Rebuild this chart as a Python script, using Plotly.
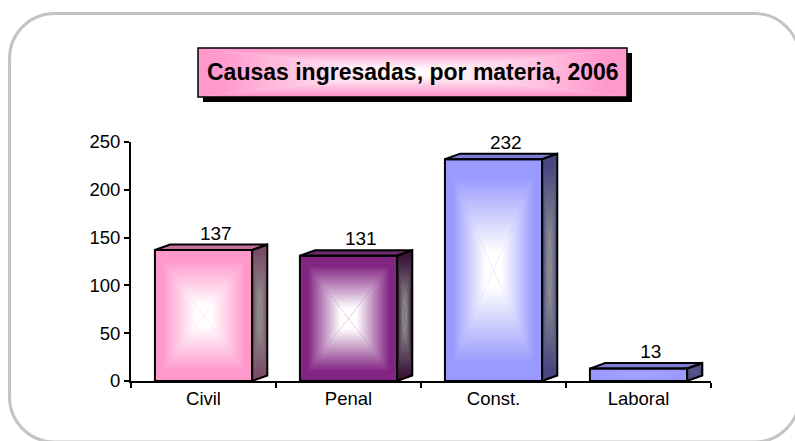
import plotly.graph_objects as go

# ---------------- data ----------------
categories = ["Civil", "Penal", "Const.", "Laboral"]
values = [137, 131, 232, 13]
y_ticks = [0, 50, 100, 150, 200, 250]
title_text = "Causas ingresadas, por materia, 2006"

# ---------------- styles ----------------
front_edge = ["#ff99cc", "#822482", "#9999ff", "#9999ff"]
front_center = ["#ffffff", "#ffffff", "#ffffff", "#a4a4ff"]
side_edge = ["#7a4d66", "#3a183a", "#48487f", "#48487f"]
side_center = ["#8e8e8e", "#8a8a8a", "#8e8e8e", "#58588f"]
top_color = ["#c4729c", "#6a2a66", "#7c7cd4", "#7c7cd4"]

FONT = "Arial, Liberation Sans, sans-serif"
W, H = 795, 441
PX_L, PX_R, PX_T, PX_B = 131, 711, 142, 381
BAR_W = 0.67
DX = 0.105   # 3-D depth along x (category units)
DY = 5.8     # 3-D depth along y (value units)

fig = go.Figure()


def cs(e, c, inner=0.08, plateau=0.42):
    return [[0, e], [inner, e], [plateau, c], [1 - plateau, c], [1 - inner, e], [1, e]]


def box_gradient(bl, tl, tr, br, center, xr, yr, e, c, xa="x", ya="y", inner=0.08, plateau=0.42):
    tris = [
        ([bl, tl, center], "horizontal", xr),
        ([tr, br, center], "horizontal", xr),
        ([tl, tr, center], "vertical", yr),
        ([br, bl, center], "vertical", yr),
    ]
    for pts, typ, (s0, s1) in tris:
        xs = [p[0] for p in pts] + [pts[0][0]]
        ys = [p[1] for p in pts] + [pts[0][1]]
        fig.add_trace(go.Scatter(
            x=xs, y=ys, mode="lines", line=dict(width=0), fill="toself",
            fillgradient=dict(type=typ, colorscale=cs(e, c, inner, plateau), start=s0, stop=s1),
            hoverinfo="skip", showlegend=False, xaxis=xa, yaxis=ya))


# base bars (front faces)
xpos = list(range(len(categories)))
fig.add_trace(go.Bar(
    x=xpos, y=values, width=BAR_W,
    marker=dict(color=front_edge, line=dict(width=0)),
    hoverinfo="skip", showlegend=False))

outline_x, outline_y = [], []
for i, v in enumerate(values):
    x0, x1 = i - BAR_W / 2, i + BAR_W / 2
    # front face gradient
    box_gradient((x0, 0), (x0, v), (x1, v), (x1, 0), ((x0 + x1) / 2, v / 2),
                 (x0, x1), (0, v), front_edge[i], front_center[i])
    # side face: base fill then gradient
    sx = [x1, x1, x1 + DX, x1 + DX, x1]
    sy = [0, v, v + DY, DY, 0]
    fig.add_trace(go.Scatter(x=sx, y=sy, mode="lines", line=dict(width=0), fill="toself",
                             fillcolor=side_edge[i], hoverinfo="skip", showlegend=False))
    box_gradient((x1, 0), (x1, v), (x1 + DX, v + DY), (x1 + DX, DY),
                 (x1 + DX / 2, (v + DY) / 2), (x1, x1 + DX), (DY / 2, v + DY / 2),
                 side_edge[i], side_center[i], inner=0.04, plateau=0.4)
    # top face
    tx = [x0, x0 + DX, x1 + DX, x1, x0]
    ty = [v, v + DY, v + DY, v, v]
    fig.add_trace(go.Scatter(x=tx, y=ty, mode="lines", line=dict(width=0), fill="toself",
                             fillcolor=top_color[i], hoverinfo="skip", showlegend=False))
    # outlines
    outline_x += [x0, x0, x1, x1, x0, None] + tx + [None] + sx + [None]
    outline_y += [0, v, v, 0, 0, None] + ty + [None] + sy + [None]

fig.add_trace(go.Scatter(x=outline_x, y=outline_y, mode="lines",
                         line=dict(color="black", width=2), hoverinfo="skip", showlegend=False))

# value labels
fig.add_trace(go.Scatter(
    x=[i + 0.085 for i in xpos], y=[v + DY for v in values],
    mode="text", text=[str(v) for v in values], textposition="top center",
    textfont=dict(family=FONT, size=19, color="black"),
    cliponaxis=False, hoverinfo="skip", showlegend=False))

# ---------------- title box (pixel-space helper axes) ----------------
TB = dict(l=198, r=627, t=48, b=97)
fig.add_trace(go.Scatter(
    x=[TB["l"], TB["l"], TB["r"], TB["r"], TB["l"]],
    y=[TB["b"], TB["t"], TB["t"], TB["b"], TB["b"]],
    mode="lines", line=dict(width=0), fill="toself", fillcolor="#ffd6ea",
    hoverinfo="skip", showlegend=False, xaxis="x2", yaxis="y2"))
box_gradient((TB["l"], TB["b"]), (TB["l"], TB["t"]), (TB["r"], TB["t"]), (TB["r"], TB["b"]),
             ((TB["l"] + TB["r"]) / 2, (TB["t"] + TB["b"]) / 2),
             (TB["l"], TB["r"]), (TB["t"], TB["b"]), "#ff99cc", "#ffffff",
             xa="x2", ya="y2", inner=0.05, plateau=0.45)


def px(x, y):
    return x / W, 1 - y / H


def pt(x, y):
    a, b = px(x, y)
    return f"{a:.5f},{b:.5f}"


# outer rounded border
L_, T_, R_, B_, RAD = 9.5, 13.5, 799.5, 442, 45
k = 0.552 * RAD
path = (f"M {pt(L_, T_ + RAD)} C {pt(L_, T_ + RAD - k)} {pt(L_ + RAD - k, T_)} {pt(L_ + RAD, T_)} "
        f"L {pt(R_ - RAD, T_)} C {pt(R_ - RAD + k, T_)} {pt(R_, T_ + RAD - k)} {pt(R_, T_ + RAD)} "
        f"L {pt(R_, B_ - RAD)} C {pt(R_, B_ - RAD + k)} {pt(R_ - RAD + k, B_)} {pt(R_ - RAD, B_)} "
        f"L {pt(L_ + RAD, B_)} C {pt(L_ + RAD - k, B_)} {pt(L_, B_ - RAD + k)} {pt(L_, B_ - RAD)} Z")

sx0, sy0 = px(TB["l"] + 5, TB["b"] + 5)
sx1, sy1 = px(TB["r"] + 5, TB["t"] + 5)
bx0, by0 = px(TB["l"], TB["b"])
bx1, by1 = px(TB["r"], TB["t"])

fig.update_layout(
    width=W, height=H,
    autosize=False,
    margin=dict(l=0, r=0, t=0, b=0, pad=0, autoexpand=False),
    paper_bgcolor="white", plot_bgcolor="rgba(0,0,0,0)",
    showlegend=False,
    bargap=0,
    xaxis=dict(domain=[PX_L / W, PX_R / W], range=[-0.5, 3.5], anchor="y", automargin=False,
               showline=True, linecolor="black", linewidth=2,
               tickvals=xpos, ticktext=categories, ticks="",
               tickfont=dict(family=FONT, size=18.5, color="black"),
               minor=dict(tickvals=[-0.5, 0.5, 1.5, 2.5, 3.5], ticks="outside",
                          ticklen=5, tickwidth=2, tickcolor="black", showgrid=False),
               showgrid=False, zeroline=False, fixedrange=True),
    yaxis=dict(domain=[1 - PX_B / H, 1 - PX_T / H], range=[0, 250], anchor="x", automargin=False,
               showline=True, linecolor="black", linewidth=2,
               tickvals=y_ticks, ticks="outside", ticklen=5, tickwidth=2, tickcolor="black",
               tickfont=dict(family=FONT, size=18.5, color="black"),
               showgrid=False, zeroline=False, fixedrange=True),
    xaxis2=dict(domain=[0, 1], range=[0, W], anchor="y2", visible=False, fixedrange=True,
                automargin=False),
    yaxis2=dict(domain=[0, 1], range=[H, 0], anchor="x2", visible=False, fixedrange=True,
                automargin=False),
    shapes=[
        dict(type="path", xref="paper", yref="paper", path=path,
             line=dict(color="#c4c4c4", width=3), layer="below"),
        dict(type="rect", xref="paper", yref="paper", x0=sx0, y0=sy0, x1=sx1, y1=sy1,
             fillcolor="black", line=dict(width=0), layer="below"),
        dict(type="rect", xref="paper", yref="paper", x0=bx0, y0=by0, x1=bx1, y1=by1,
             fillcolor="rgba(0,0,0,0)", line=dict(color="black", width=1.5), layer="above"),
    ],
    annotations=[
        dict(text=f"<b>{title_text}</b>", xref="paper", yref="paper",
             x=(bx0 + bx1) / 2, y=(by0 + by1) / 2, xanchor="center", yanchor="middle",
             showarrow=False, font=dict(family=FONT, size=23, color="black")),
    ],
)

fig.write_html(
    "out.html",
    config={"displayModeBar": False, "staticPlot": True},
    post_script="document.body.style.margin='0';document.body.style.overflow='hidden';",
)
